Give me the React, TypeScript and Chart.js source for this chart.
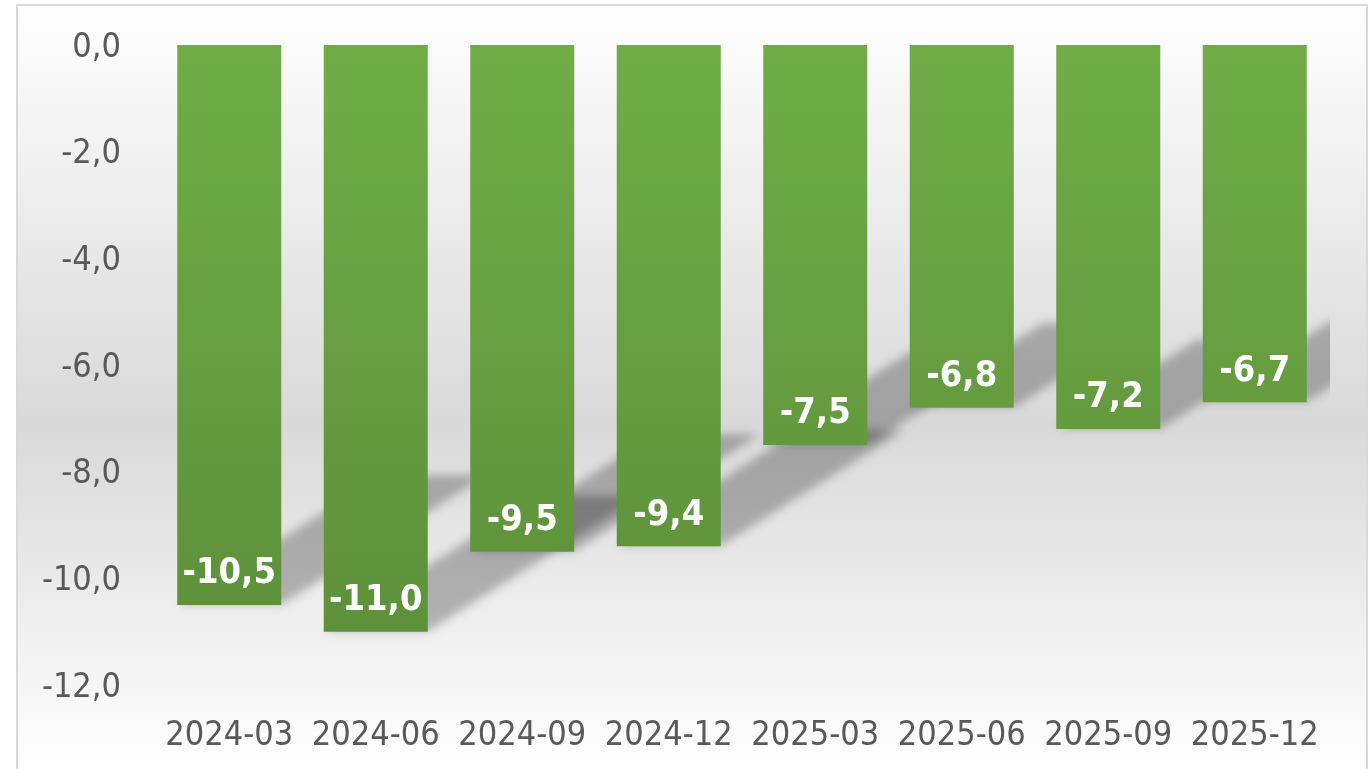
import React, { useEffect, useRef } from "react";
import { Chart, registerables } from "chart.js";

Chart.register(...registerables);

const categories = ["2024-03", "2024-06", "2024-09", "2024-12", "2025-03", "2025-06", "2025-09", "2025-12"];
const values = [-10.5, -11.0, -9.5, -9.4, -7.5, -6.8, -7.2, -6.7];
const yTicks = [0, -2, -4, -6, -8, -10, -12];

const FONT = "'DejaVu Sans Condensed', 'DejaVu Sans', sans-serif";
const fmt = (v: number) => v.toFixed(1).replace(".", ",");

const bgPlugin = {
  id: "bgPlugin",
  beforeDraw(chart: any) {
    const { ctx, width, height } = chart;
    ctx.save();
    ctx.fillStyle = "#ffffff";
    ctx.fillRect(0, 0, width, height);
    const g = ctx.createLinearGradient(0, 0, 0, height);
    g.addColorStop(0, "#ffffff");
    g.addColorStop(0.55, "#d9d9d9");
    g.addColorStop(1, "#ffffff");
    ctx.fillStyle = g;
    ctx.fillRect(17, 5, 1350, height);
    ctx.strokeStyle = "#d9d9d9";
    ctx.lineWidth = 2;
    ctx.strokeRect(17, 5, 1350, height + 20);
    ctx.restore();
  },
};

const shadowPlugin = {
  id: "shadowPlugin",
  beforeDatasetsDraw(chart: any) {
    const { ctx, chartArea } = chart;
    const meta = chart.getDatasetMeta(0);
    ctx.save();
    ctx.beginPath();
    ctx.rect(chartArea.left - 40, 0, chartArea.right - chartArea.left + 42, chart.height);
    ctx.clip();
    ctx.filter = "blur(5px)";
    ctx.fillStyle = "rgba(0,0,0,0.26)";
    const k = Math.tan((20 * Math.PI) / 180);
    meta.data.forEach((bar: any) => {
      const p = bar.getProps(["x", "y", "base", "width"], true);
      const xl = p.x - p.width / 2;
      const xr = p.x + p.width / 2;
      const h = p.y - p.base;
      const sh = 0.23 * h;
      const shift = k * h;
      ctx.beginPath();
      ctx.moveTo(xl + 1, p.y - 1);
      ctx.lineTo(xr + 1, p.y - 1);
      ctx.lineTo(xr + 1 + shift, p.y - 1 - sh);
      ctx.lineTo(xl + 1 + shift, p.y - 1 - sh);
      ctx.closePath();
      ctx.fill();
    });
    ctx.restore();
  },
};

const labelPlugin = {
  id: "labelPlugin",
  afterDatasetsDraw(chart: any) {
    const { ctx } = chart;
    const meta = chart.getDatasetMeta(0);
    ctx.save();
    ctx.fillStyle = "#ffffff";
    ctx.font = `bold 36px ${FONT}`;
    ctx.textAlign = "center";
    ctx.textBaseline = "middle";
    meta.data.forEach((bar: any, i: number) => {
      const p = bar.getProps(["x", "y"], true);
      ctx.fillText(fmt(values[i]), p.x, p.y - 31);
    });
    ctx.restore();
  },
};

export default function App() {
  const ref = useRef<HTMLCanvasElement>(null);
  useEffect(() => {
    if (!ref.current) return;
    const chart = new Chart(ref.current, {
      type: "bar",
      data: {
        labels: categories,
        datasets: [
          {
            data: values,
            backgroundColor: (c: any) => {
              const area = c.chart.chartArea;
              if (!area) return "#70ad47";
              const g = c.chart.ctx.createLinearGradient(0, area.top, 0, area.bottom);
              g.addColorStop(0, "#70ad47");
              g.addColorStop(1, "#5b8e39");
              return g;
            },
            borderWidth: 0,
            categoryPercentage: 1,
            barPercentage: 0.71,
          },
        ],
      },
      options: {
        responsive: false,
        animation: false,
        events: [],
        layout: { autoPadding: false, padding: { left: 0, right: 43, top: 45, bottom: 0 } },
        plugins: { legend: { display: false }, tooltip: { enabled: false } },
        scales: {
          x: {
            grid: { display: false, drawTicks: false },
            border: { display: false },
            ticks: { color: "#595959", font: { family: FONT, size: 34 }, padding: 31, maxRotation: 0 },
            afterFit: (s: any) => {
              s.height = 84;
              s.paddingLeft = 0;
              s.paddingRight = 0;
            },
          },
          y: {
            min: -12,
            max: 0,
            grid: { display: false, drawTicks: false },
            border: { display: false },
            afterBuildTicks: (s: any) => {
              s.ticks = yTicks.map((v) => ({ value: v }));
            },
            ticks: {
              color: "#595959",
              font: { family: FONT, size: 34 },
              padding: 35,
              labelOffset: 3,
              callback: (v: any) => fmt(Number(v)),
            },
            afterFit: (s: any) => {
              s.width = 156;
              s.paddingTop = 0;
              s.paddingBottom = 0;
            },
          },
        },
      },
      plugins: [bgPlugin, shadowPlugin, labelPlugin],
    });
    return () => chart.destroy();
  }, []);
  return (
    <div style={{ position: "fixed", left: 0, top: 0, width: 1371, height: 769, overflow: "hidden" }}>
      <canvas ref={ref} width={1371} height={769} style={{ display: "block" }} />
    </div>
  );
}
